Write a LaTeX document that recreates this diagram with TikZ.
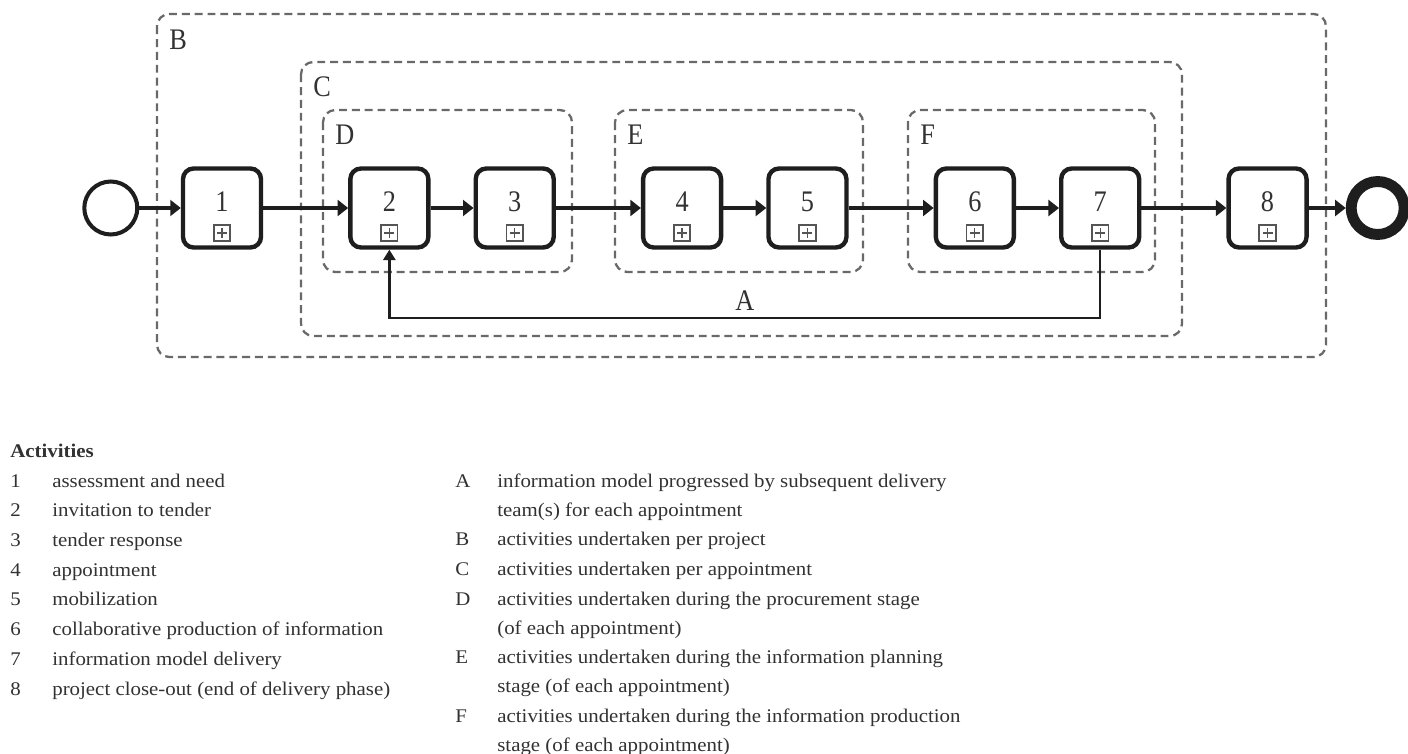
\documentclass[tikz,border=0pt]{standalone}
\usepackage{fontspec}
\setmainfont[FakeStretch=1.08]{Liberation Serif}
\newfontfamily\diagfont[FakeStretch=0.88]{Liberation Serif}
\usepackage{xcolor}
\usetikzlibrary{arrows.meta,positioning}
\definecolor{lineDark}{RGB}{30,30,30}
\definecolor{frameGray}{RGB}{105,105,105}
\definecolor{textGray}{RGB}{50,50,50}
\definecolor{markGray}{RGB}{85,85,85}
\newcommand{\legfont}{\fontsize{11}{16.5}\selectfont}
\newcommand{\labfont}{\diagfont\fontsize{17}{20}\selectfont}
\tikzset{
  taskbox/.style={
    rectangle, rounded corners=6pt, draw=lineDark, line width=2.5pt,
    minimum width=1.56cm, minimum height=1.58cm, fill=white
  },
  tasknum/.style={inner sep=0pt, font=\labfont, text=textGray},
  taskmark/.style={
    rectangle, draw=markGray, line width=1pt, minimum size=0.33cm, inner sep=0pt,
    path picture={
      \draw[markGray, line width=0.7pt]
        ([xshift=-0.1cm]path picture bounding box.center) -- ([xshift=0.1cm]path picture bounding box.center)
        ([yshift=-0.1cm]path picture bounding box.center) -- ([yshift=0.1cm]path picture bounding box.center);
    }
  },
  startev/.style={circle, draw=lineDark, line width=2.3pt, minimum size=1.06cm, inner sep=0pt},
  endev/.style={circle, draw=lineDark, line width=6.2pt, minimum size=1.06cm, inner sep=0pt},
  flowarrow/.style={draw=lineDark, line width=2.2pt, -{Triangle[length=6pt,width=9pt]}},
  backarrow/.style={draw=lineDark, line width=1.4pt, -{Triangle[length=6pt,width=7pt]}},
  grpframe/.style={draw=frameGray, line width=1.3pt, dash pattern=on 4.5pt off 2.8pt, rounded corners=7pt},
  grplabel/.style={anchor=north west, inner sep=0pt, font=\labfont, text=textGray},
  flowlabel/.style={inner sep=0pt, font=\labfont, text=textGray},
  legtxt/.style={anchor=north west, inner sep=0pt, align=left, font=\legfont, text=textGray},
  legnum/.style={anchor=north west, inner sep=0pt, font=\legfont, text=textGray},
  nextline/.style={below=0pt of #1.south west, anchor=north west},
  keyfor/.style={left=0.84cm of #1.north west, anchor=north west}
}

\begin{document}
\begin{tikzpicture}[x=0.02cm, y=-0.02cm]
  \fill[white] (0,0) rectangle (1408,753);
  \useasboundingbox (0,0) rectangle (1408,753);

  % group frames
  \draw[grpframe] (157,14) rectangle (1326,357);
  \draw[grpframe] (301,62) rectangle (1182,336);
  \draw[grpframe] (323,110) rectangle (572,272);
  \draw[grpframe] (615,110) rectangle (863,272);
  \draw[grpframe] (908,110) rectangle (1155,272);
  \node[grplabel] (labB) at (169,30) {B};
  \node[grplabel] (labC) at (313,76) {C};
  \node[grplabel] (labD) at (335,125) {D};
  \node[grplabel] (labE) at (627,125) {E};
  \node[grplabel] (labF) at (920,125) {F};

  % activities
  \node[taskbox] (b1) at (222,208) {};
  \node[taskbox, right=1.70cm of b1] (b2) {};
  \node[taskbox, right=0.86cm of b2] (b3) {};
  \node[taskbox, right=1.70cm of b3] (b4) {};
  \node[taskbox, right=0.86cm of b4] (b5) {};
  \node[taskbox, right=1.70cm of b5] (b6) {};
  \node[taskbox, right=0.86cm of b6] (b7) {};
  \node[taskbox, right=1.70cm of b7] (b8) {};
  \node[startev, left=0.83cm of b1] (start) {};
  \node[endev, right=0.74cm of b8] (finish) {};

  \node[tasknum] (n1) at ([yshift=0.12cm]b1.center) {1};
  \node[tasknum] (n2) at ([yshift=0.12cm]b2.center) {2};
  \node[tasknum] (n3) at ([yshift=0.12cm]b3.center) {3};
  \node[tasknum] (n4) at ([yshift=0.12cm]b4.center) {4};
  \node[tasknum] (n5) at ([yshift=0.12cm]b5.center) {5};
  \node[tasknum] (n6) at ([yshift=0.12cm]b6.center) {6};
  \node[tasknum] (n7) at ([yshift=0.12cm]b7.center) {7};
  \node[tasknum] (n8) at ([yshift=0.12cm]b8.center) {8};
  \node[taskmark] (m1) at ([yshift=-0.5cm]b1.center) {};
  \node[taskmark] (m2) at ([yshift=-0.5cm]b2.center) {};
  \node[taskmark] (m3) at ([yshift=-0.5cm]b3.center) {};
  \node[taskmark] (m4) at ([yshift=-0.5cm]b4.center) {};
  \node[taskmark] (m5) at ([yshift=-0.5cm]b5.center) {};
  \node[taskmark] (m6) at ([yshift=-0.5cm]b6.center) {};
  \node[taskmark] (m7) at ([yshift=-0.5cm]b7.center) {};
  \node[taskmark] (m8) at ([yshift=-0.5cm]b8.center) {};

  % sequence flow
  \draw[flowarrow] (start.east) -- (b1.west);
  \draw[flowarrow] (b1.east) -- (b2.west);
  \draw[flowarrow] (b2.east) -- (b3.west);
  \draw[flowarrow] (b3.east) -- (b4.west);
  \draw[flowarrow] (b4.east) -- (b5.west);
  \draw[flowarrow] (b5.east) -- (b6.west);
  \draw[flowarrow] (b6.east) -- (b7.west);
  \draw[flowarrow] (b7.east) -- (b8.west);
  \draw[flowarrow] (b8.east) -- (finish.west);

  % loop back to invitation
  \coordinate (backlevel) at (0,318);
  \draw[backarrow] (b7.south) -- (b7.south |- backlevel)
    -| node[flowlabel, pos=0.25, above=3.5pt] (labA) {A} (b2.south);

  % key
  \node[legtxt, font=\legfont\bfseries] (acthead) at (10,437) {\strut Activities\strut};
  \node[legtxt] (act1) at (52,466.5) {\strut assessment and need\strut};
  \node[legtxt, nextline=act1] (act2) {\strut invitation to tender\strut};
  \node[legtxt, nextline=act2] (act3) {\strut tender response\strut};
  \node[legtxt, nextline=act3] (act4) {\strut appointment\strut};
  \node[legtxt, nextline=act4] (act5) {\strut mobilization\strut};
  \node[legtxt, nextline=act5] (act6) {\strut collaborative production of information\strut};
  \node[legtxt, nextline=act6] (act7) {\strut information model delivery\strut};
  \node[legtxt, nextline=act7] (act8) {\strut project close-out (end of delivery phase)\strut};
  \node[legnum, keyfor=act1] (num1) {\strut 1};
  \node[legnum, keyfor=act2] (num2) {\strut 2};
  \node[legnum, keyfor=act3] (num3) {\strut 3};
  \node[legnum, keyfor=act4] (num4) {\strut 4};
  \node[legnum, keyfor=act5] (num5) {\strut 5};
  \node[legnum, keyfor=act6] (num6) {\strut 6};
  \node[legnum, keyfor=act7] (num7) {\strut 7};
  \node[legnum, keyfor=act8] (num8) {\strut 8};

  \node[legtxt] (keyA) at (497,466.5)
    {\strut information model progressed by subsequent delivery\\team(s) for each appointment\strut};
  \node[legtxt, nextline=keyA] (keyB) {\strut activities undertaken per project\strut};
  \node[legtxt, nextline=keyB] (keyC) {\strut activities undertaken per appointment\strut};
  \node[legtxt, nextline=keyC] (keyD)
    {\strut activities undertaken during the procurement stage\\(of each appointment)\strut};
  \node[legtxt, nextline=keyD] (keyE)
    {\strut activities undertaken during the information planning\\stage (of each appointment)\strut};
  \node[legtxt, nextline=keyE] (keyF)
    {\strut activities undertaken during the information production\\stage (of each appointment)\strut};
  \node[legnum, keyfor=keyA] (letA) {\strut A};
  \node[legnum, keyfor=keyB] (letB) {\strut B};
  \node[legnum, keyfor=keyC] (letC) {\strut C};
  \node[legnum, keyfor=keyD] (letD) {\strut D};
  \node[legnum, keyfor=keyE] (letE) {\strut E};
  \node[legnum, keyfor=keyF] (letF) {\strut F};
\end{tikzpicture}
\end{document}
